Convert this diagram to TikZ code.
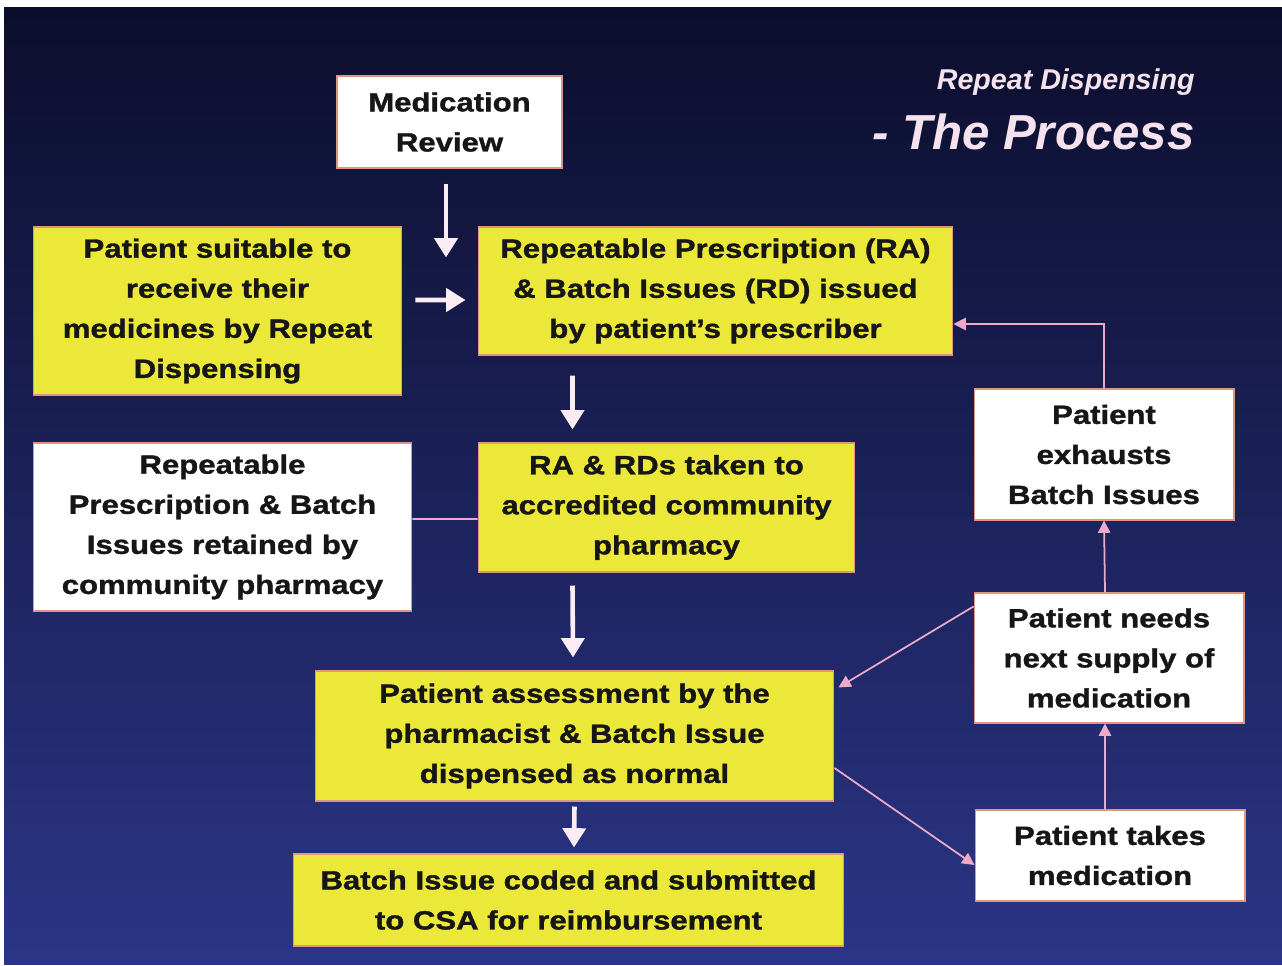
\documentclass[tikz,border=0pt]{standalone}
\usepackage{fontspec}
\setmainfont{Liberation Sans}
\newfontfamily\boxfont{Liberation Sans}[FakeStretch=1.18, BoldFeatures={FakeBold=1.3}]
\usetikzlibrary{arrows.meta}
\definecolor{bgtop}{RGB}{12,14,44}
\definecolor{bgbot}{RGB}{43,53,134}
\definecolor{slideyellow}{RGB}{236,232,58}
\definecolor{boxedge}{RGB}{222,150,130}
\definecolor{boxtext}{RGB}{22,22,22}
\definecolor{titlepink}{RGB}{246,226,236}
\definecolor{arrowwhite}{RGB}{250,236,242}
\definecolor{linkpink}{RGB}{236,170,200}

\begin{document}
\begin{tikzpicture}[x=0.02cm, y=-0.02cm,
  yellowbox/.style={rectangle, draw=boxedge, line width=0.6pt, fill=slideyellow, text=boxtext, align=center, inner sep=0pt, font=\boxfont\bfseries\fontsize{15}{22.8}\selectfont},
  whitebox/.style={yellowbox, fill=white},
  bigarrow/.style={-{Triangle[width=13pt,length=11pt]}, line width=2.6pt, arrowwhite},
  thinlink/.style={line width=1pt, linkpink},
  thinarrow/.style={thinlink, -{Triangle[width=7pt,length=7pt]}}]
% background
\fill[white] (0,0) rectangle (1282,966);
\shade[top color=bgtop, bottom color=bgbot] (4,8) rectangle (1282,964);
% title
\node[anchor=base east, text=titlepink, font=\bfseries\itshape\fontsize{16.3}{18}\selectfont, inner sep=0pt] (subtitle) at (1195,90) {Repeat Dispensing};
\node[anchor=base east, text=titlepink, font=\bfseries\itshape\fontsize{28}{32}\selectfont, inner sep=0pt] (maintitle) at (1195,150) {- The Process};
% boxes
\node[whitebox, minimum width=4.5cm, minimum height=1.84cm] (medrev) at (449.5,122) {Medication\\Review};
\node[yellowbox, minimum width=7.38cm, minimum height=3.36cm] (suitable) at (217.5,311) {Patient suitable to\\receive their\\medicines by Repeat\\Dispensing};
\node[yellowbox, minimum width=9.5cm, minimum height=2.56cm] (issued) at (715.5,291) {Repeatable Prescription (RA)\\\& Batch Issues (RD) issued\\by patient’s prescriber};
\node[yellowbox, minimum width=7.54cm, minimum height=2.58cm] (taken) at (666.5,507.5) {RA \& RDs taken to\\accredited community\\pharmacy};
\node[whitebox, minimum width=7.58cm, minimum height=3.36cm] (retained) at (222.5,527) {Repeatable\\Prescription \& Batch\\Issues retained by\\community pharmacy};
\node[yellowbox, minimum width=10.38cm, minimum height=2.6cm] (assess) at (574.5,736) {Patient assessment by the\\pharmacist \& Batch Issue\\dispensed as normal};
\node[yellowbox, minimum width=11.02cm, minimum height=1.84cm] (coded) at (568.5,900) {Batch Issue coded and submitted\\to CSA for reimbursement};
\node[whitebox, minimum width=5.2cm, minimum height=2.62cm] (exhausts) at (1104,454.5) {Patient\\exhausts\\Batch Issues};
\node[whitebox, minimum width=5.4cm, minimum height=2.6cm] (needs) at (1109,658) {Patient needs\\next supply of\\medication};
\node[whitebox, minimum width=5.4cm, minimum height=1.82cm] (takes) at (1110,855.5) {Patient takes\\medication};
% main flow
\draw[bigarrow] ([xshift=-0.07cm,yshift=-0.3cm]medrev.south) -- ([xshift=-0.07cm,yshift=-1.78cm]medrev.south);
\draw[bigarrow] ([xshift=0.26cm,yshift=0.22cm]suitable.east) -- ([xshift=-0.24cm,yshift=-0.18cm]issued.west);
\draw[bigarrow] ([xshift=1.9cm,yshift=-0.4cm]issued.south west) -- ([xshift=1.9cm,yshift=0.26cm]taken.north west);
\draw[bigarrow] ([xshift=1.9cm,yshift=-0.26cm]taken.south west) -- ([xshift=-0.03cm,yshift=0.26cm]assess.north);
\draw[bigarrow] ([yshift=-0.1cm]assess.south) -- ([xshift=0.11cm,yshift=0.12cm]coded.north);
\draw[thinlink] ([yshift=0.16cm]retained.east) -- ([yshift=-0.23cm]taken.west);
% repeat loop
\draw[thinarrow] ([xshift=-0.1cm]takes.north) -- ([xshift=-0.08cm]needs.south);
\draw[thinarrow] ([xshift=-0.08cm]needs.north) -- (exhausts.south);
\draw[thinarrow] (exhausts.north) |- ([yshift=-0.66cm]issued.east);
\draw[thinarrow] ([yshift=-0.28cm]needs.north west) -- ([xshift=0.08cm,yshift=-0.34cm]assess.north east);
\draw[thinarrow] ([yshift=-0.64cm]assess.east) -- ([yshift=-0.19cm]takes.west);
\end{tikzpicture}
\end{document}
